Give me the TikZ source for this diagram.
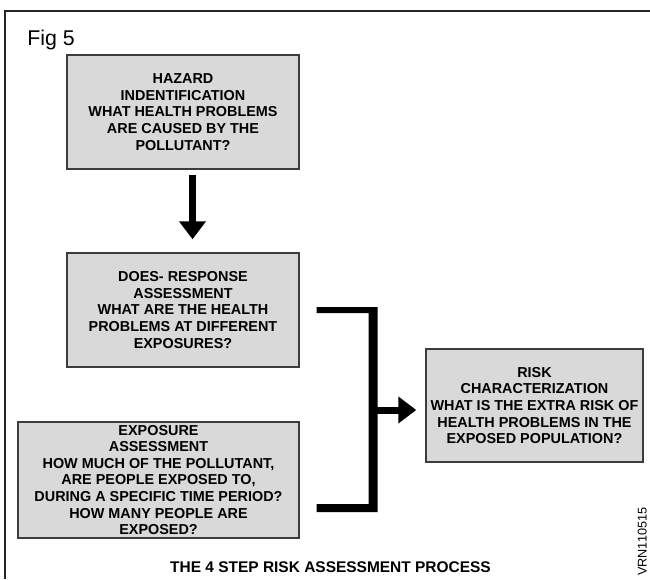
\documentclass[tikz,border=0pt]{standalone}
\usepackage{fontspec}
\setmainfont{Liberation Sans}
\usetikzlibrary{arrows.meta,calc}
\definecolor{boxfill}{HTML}{D9D9D9}
\definecolor{boxline}{HTML}{3C3C3C}
\begin{document}
\begin{tikzpicture}[x=0.75pt,y=-0.75pt,
  stepbox/.style={draw=boxline,fill=boxfill,line width=1.1pt,rectangle,
    inner sep=1pt,align=center,text=black,
    font=\bfseries\fontsize{10.8}{12.45}\selectfont},
  fatarrow/.style={line width=5.25pt,-{Triangle[length=13.5pt,width=19.5pt]}},
  bracket/.style={fill=black,draw=none}]
\useasboundingbox (0,0) rectangle (650,579);

% outer frame
\draw[line width=1.1pt,color=black!85] (5,579) -- (5,11) -- (650,11);

% title
\node[anchor=base west,inner sep=0pt,font=\fontsize{16}{19}\selectfont] (fig) at (27,45) {Fig 5};

% the four steps
\node[stepbox,minimum width=174pt,minimum height=85.5pt] (hazard) at (183,112)
  {HAZARD\\INDENTIFICATION\\WHAT HEALTH PROBLEMS\\ARE CAUSED BY THE\\POLLUTANT?};
\node[stepbox,minimum width=174pt,minimum height=85.5pt] (dose) at (183,310)
  {DOES- RESPONSE\\ASSESSMENT\\WHAT ARE THE HEALTH\\PROBLEMS AT DIFFERENT\\EXPOSURES?};
\node[stepbox,minimum width=210.75pt,minimum height=87pt] (expo) at (158.5,480)
  {EXPOSURE\\ASSESSMENT\\HOW MUCH OF THE POLLUTANT,\\ARE PEOPLE EXPOSED TO,\\DURING A SPECIFIC TIME PERIOD?\\HOW MANY PEOPLE ARE\\EXPOSED?};
\node[stepbox,minimum width=162.75pt,minimum height=84.75pt] (risk) at (534.5,405.5)
  {RISK\\CHARACTERIZATION\\WHAT IS THE EXTRA RISK OF\\HEALTH PROBLEMS IN THE\\EXPOSED POPULATION?};

% hazard -> dose
\coordinate (d1) at ($(hazard.south)+(9.5,5)$);
\coordinate (d2) at ($(dose.north)+(9.5,-13)$);
\draw[fatarrow] (d1) -- (d2);

% bracket joining dose and exposure
\coordinate (bt) at ($(dose.east)+(17,0)$);
\coordinate (bb) at ($(expo.east)+(17,28)$);
\fill[bracket] ($(bt)+(0,-3)$) -- ++(61,0) |- ($(bb)+(0,4)$) -- ++(0,-8)
  -- ++(52,0) |- ($(bt)+(0,3)$) -- cycle;

% bracket -> risk
\coordinate (r1) at (376,410);
\coordinate (r2) at ($(risk.west)+(-9,4.5)$);
\draw[fatarrow] (r1) -- (r2);

% caption
\node[inner sep=0pt,font=\bfseries\fontsize{11.6}{14}\selectfont] (cap) at (330.5,567)
  {THE 4 STEP RISK ASSESSMENT PROCESS};

% reference code
\node[rotate=90,anchor=south west,inner sep=0pt,font=\fontsize{9.5}{12}\selectfont] (code) at (647,576) {VRN110515};
\end{tikzpicture}
\end{document}
